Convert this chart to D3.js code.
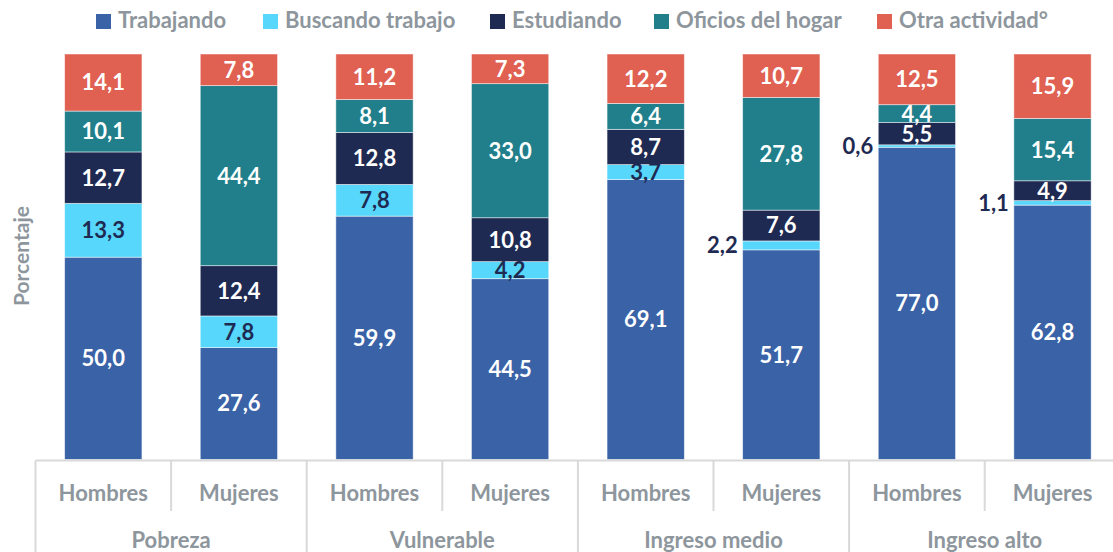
<!DOCTYPE html>
<html><head><meta charset="utf-8">
<script src="https://cdn.jsdelivr.net/npm/d3@7"></script>
<style>
html,body{margin:0;padding:0;background:#fff;}
svg{display:block;font-family:Lato,"Noto Sans",sans-serif;font-weight:700;}
</style></head>
<body>
<svg id="chart" width="1113" height="552"></svg>
<script>
const groups = ["Pobreza","Vulnerable","Ingreso medio","Ingreso alto"];
const sexes = ["Hombres","Mujeres"];
const seriesNames = ["Trabajando","Buscando trabajo","Estudiando","Oficios del hogar","Otra actividad°"];
const trabajando = [50.0,27.6,59.9,44.5,69.1,51.7,77.0,62.8];
const buscando   = [13.3,7.8,7.8,4.2,3.7,2.2,0.6,1.1];
const estudiando = [12.7,12.4,12.8,10.8,8.7,7.6,5.5,4.9];
const oficios    = [10.1,44.4,8.1,33.0,6.4,27.8,4.4,15.4];
const otra       = [14.1,7.8,11.2,7.3,12.2,10.7,12.5,15.9];
const colors = ["#3a62a7","#56d7fb","#1f2a52","#217f8b","#e06051"];

const svg = d3.select("#chart");
const W = 1113, H = 552;
const plotTop = 54, base = 459.5;
const gray = "#8e969d", lineCol = "#d9d9d9";

const rows = [];
groups.forEach((g,gi)=>sexes.forEach((s,si)=>{
  const i = gi*2+si;
  rows.push({key:g+"|"+s, group:g, sex:s,
    "Trabajando":trabajando[i],"Buscando trabajo":buscando[i],"Estudiando":estudiando[i],
    "Oficios del hogar":oficios[i],"Otra actividad°":otra[i]});
}));

const x = d3.scaleBand().domain(rows.map(d=>d.key)).range([35.5,1120.3]).paddingInner(0.43).paddingOuter(0.215);
const y = d3.scaleLinear().domain([0,1]).range([base, plotTop]);
const stack = d3.stack().keys(seriesNames).offset(d3.stackOffsetExpand);
const stacked = stack(rows);

const layer = svg.append("g").selectAll("g").data(stacked).join("g").attr("fill",(d,i)=>colors[i]);
layer.selectAll("rect").data(d=>d).join("rect")
  .attr("x",d=>x(d.data.key)).attr("width",x.bandwidth())
  .attr("y",d=>y(d[1])).attr("height",d=>y(d[0])-y(d[1]))
  .attr("stroke","#ffffff").attr("stroke-opacity",0.6).attr("stroke-width",0.8);

// value labels
const fmt = v => v.toFixed(1).replace(".",",");
stacked.forEach((s,si)=>{
  s.forEach(d=>{
    const v = d.data[s.key];
    const h = y(d[0])-y(d[1]);
    const cy = (y(d[0])+y(d[1]))/2;
    const small = h < 12;
    svg.append("text")
      .attr("x", small ? x(d.data.key)-5 : x(d.data.key)+x.bandwidth()/2)
      .attr("y", cy)
      .attr("dy","0.36em")
      .attr("text-anchor", small ? "end" : "middle")
      .attr("font-size",22)
      .attr("fill", (small || si===1) ? "#1f2a52" : "#ffffff")
      .text(fmt(v));
  });
});

// axis lines
const ax = svg.append("g").attr("stroke",lineCol).attr("stroke-width",2);
ax.append("line").attr("x1",35.5).attr("x2",W).attr("y1",base+1).attr("y2",base+1);
const step = x.step();
groups.forEach((g,gi)=>{
  const left = x(g+"|Hombres") - (step - x.bandwidth())/2;
  ax.append("line").attr("x1",left).attr("x2",left).attr("y1",base+1).attr("y2",H);
  const mid = x(g+"|Mujeres") - (step - x.bandwidth())/2;
  ax.append("line").attr("x1",mid).attr("x2",mid).attr("y1",base+1).attr("y2",511);
});

// category labels
svg.append("g").selectAll("text").data(rows).join("text")
  .attr("x",d=>x(d.key)+x.bandwidth()/2).attr("y",501)
  .attr("text-anchor","middle").attr("font-size",22).attr("fill",gray)
  .text(d=>d.sex);
svg.append("g").selectAll("text").data(groups).join("text")
  .attr("x",g=>(x(g+"|Hombres")+x(g+"|Mujeres")+x.bandwidth())/2).attr("y",548)
  .attr("text-anchor","middle").attr("font-size",22).attr("fill",gray)
  .text(g=>g);

// y label
svg.append("text").attr("transform","translate(29,256) rotate(-90)")
  .attr("text-anchor","middle").attr("font-size",21).attr("fill",gray).text("Porcentaje");

// legend
const legX = [96,263,490,654,877];
const leg = svg.append("g").selectAll("g").data(seriesNames).join("g")
  .attr("transform",(d,i)=>`translate(${legX[i]},0)`);
leg.append("rect").attr("x",0).attr("y",14).attr("width",15).attr("height",15).attr("fill",(d,i)=>colors[i]);
leg.append("text").attr("x",22).attr("y",28).attr("font-size",22).attr("fill",gray).text(d=>d);
</script>
</body></html>
